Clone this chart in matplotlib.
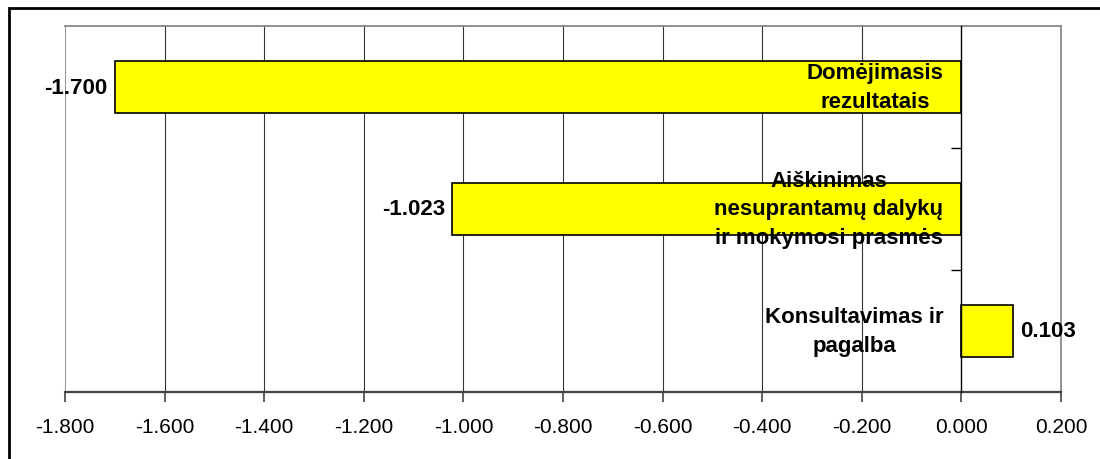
import matplotlib
matplotlib.use("Agg")
import matplotlib.pyplot as plt
from matplotlib.patches import Rectangle

plt.rcParams['font.family'] = ['Liberation Sans', 'DejaVu Sans']

categories = ["Domėjimasis\nrezultatais",
              "Aiškinimas\nnesuprantamų dalykų\nir mokymosi prasmės",
              "Konsultavimas ir\npagalba"]
values = [-1.700, -1.023, 0.103]
value_labels = ["-1.700", "-1.023", "0.103"]
xticks = [-1.8, -1.6, -1.4, -1.2, -1.0, -0.8, -0.6, -0.4, -0.2, 0.0, 0.2]
xtick_labels = ["-1.800", "-1.600", "-1.400", "-1.200", "-1.000", "-0.800",
                "-0.600", "-0.400", "-0.200", "0.000", "0.200"]

fig = plt.figure(figsize=(11, 4.6), dpi=100)
ax = fig.add_axes([65/1100, 1-393/460, (1061-65)/1100, (393-27)/460])

# figure border (cropped at right and bottom)
fig.patches.append(Rectangle((9/1100, -0.02), 1.05, 1-9/460+0.02, transform=fig.transFigure,
                             fill=False, edgecolor='black', linewidth=2))

ypos = list(range(len(categories)))
ax.barh(ypos, values, height=0.42, color='#ffff00', edgecolor='black', linewidth=1.2, zorder=3)

ax.set_xlim(-1.8, 0.2)
ax.set_ylim(2.5, -0.5)

# gridlines
for x in xticks[1:-1]:
    if x != 0.0:
        ax.axvline(x, color='#333333', linewidth=0.8, zorder=1)

# frame
for s in ['top', 'right']:
    ax.spines[s].set_color('#888888')
    ax.spines[s].set_linewidth(1.3)
ax.spines['bottom'].set_color('#444444')
ax.spines['bottom'].set_linewidth(1.6)
ax.spines['left'].set_position(('data', 0))
ax.spines['left'].set_color('black')
ax.spines['left'].set_linewidth(1.0)
ax.spines['left'].set_zorder(4)
ax.axvline(-1.8, color='#888888', linewidth=1.3, zorder=1)

ax.set_yticks([0.5, 1.5])
ax.set_yticklabels([])
ax.tick_params(axis='y', direction='out', length=7, width=1, color='black')

ax.set_xticks(xticks)
ax.set_xticklabels(xtick_labels, fontsize=15)
ax.tick_params(axis='x', direction='out', length=7, width=1.2, color='#444444', pad=11)

# value labels
for y, v, lab in zip(ypos, values, value_labels):
    if v < 0:
        ax.annotate(lab, (v, y), xytext=(-5, 0), textcoords='offset points',
                    ha='right', va='center', fontsize=16, fontweight='bold', zorder=5)
    else:
        ax.annotate(lab, (v, y), xytext=(5, 0), textcoords='offset points',
                    ha='left', va='center', fontsize=16, fontweight='bold', zorder=5)

# category labels
for y, c in zip(ypos, categories):
    ax.annotate(c, (0, y), xytext=(-13, 0), textcoords='offset points',
                ha='right', va='center', multialignment='center', linespacing=1.45,
                fontsize=16, fontweight='bold', zorder=6)

fig.savefig("out.png", dpi=100)
